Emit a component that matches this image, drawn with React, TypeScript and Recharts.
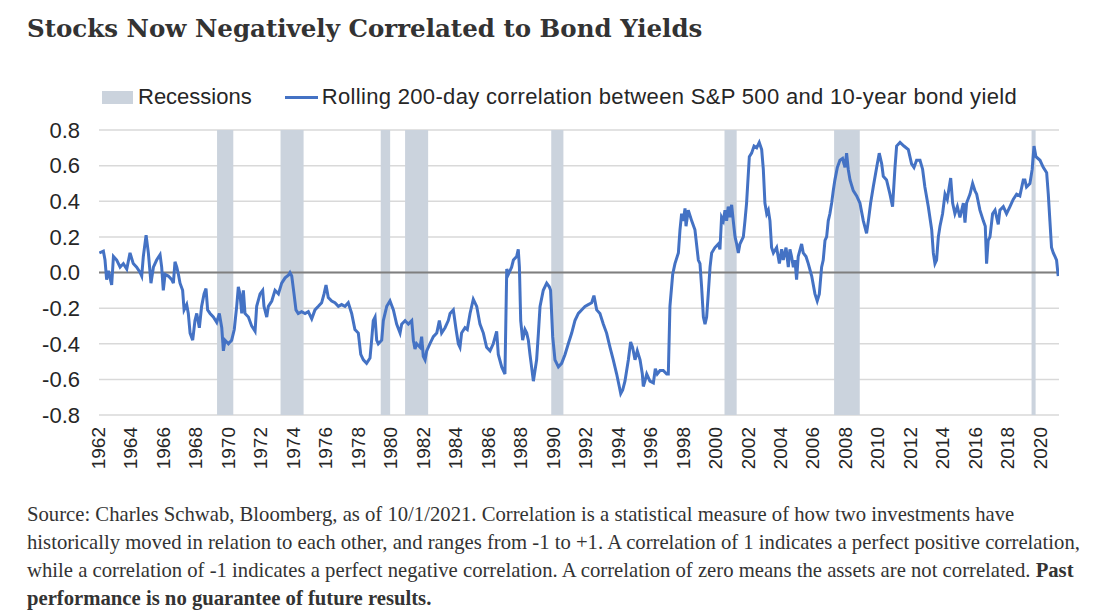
import {
  LineChart,
  Line,
  XAxis,
  YAxis,
  CartesianGrid,
  ReferenceArea,
  ReferenceLine,
} from "recharts";

// dates as decimal years, correlation
const dates = [
  1962.67, 1962.92, 1963.02, 1963.12, 1963.23, 1963.43, 1963.54, 1963.74, 1963.95, 1964.15,
  1964.36, 1964.56, 1964.76, 1964.97, 1965.18, 1965.28, 1965.38, 1965.55, 1965.69, 1965.85,
  1966.0, 1966.2, 1966.41, 1966.51, 1966.61, 1966.72, 1966.92, 1967.13, 1967.23, 1967.33,
  1967.44, 1967.54, 1967.64, 1967.8, 1967.89, 1968.05, 1968.15, 1968.26, 1968.42, 1968.56,
  1968.67, 1968.83, 1968.97, 1969.12, 1969.24, 1969.34, 1969.49, 1969.69, 1969.9, 1970.06,
  1970.21, 1970.31, 1970.41, 1970.62, 1970.82, 1970.98, 1971.13, 1971.23, 1971.33, 1971.44,
  1971.54, 1971.64, 1971.85, 1972.05, 1972.26, 1972.36, 1972.57, 1972.73, 1972.81, 1972.98,
  1973.08, 1973.29, 1973.49, 1973.7, 1973.9, 1974.11, 1974.31, 1974.41, 1974.52, 1974.66,
  1974.78, 1974.92, 1975.13, 1975.34, 1975.54, 1975.75, 1975.95, 1976.16, 1976.36, 1976.51,
  1976.63, 1976.77, 1976.98, 1977.18, 1977.39, 1977.59, 1977.8, 1978.0, 1978.21, 1978.41,
  1978.62, 1978.77, 1978.93, 1979.13, 1979.34, 1979.44, 1979.54, 1979.65, 1979.75, 1979.85,
  1980.06, 1980.16, 1980.37, 1980.57, 1980.78, 1980.98, 1981.19, 1981.29, 1981.5, 1981.7,
  1981.91, 1982.01, 1982.11, 1982.21, 1982.42, 1982.52, 1982.62, 1982.73, 1982.83, 1983.03,
  1983.24, 1983.45, 1983.61, 1983.75, 1983.96, 1984.16, 1984.27, 1984.47, 1984.64, 1984.78,
  1984.88, 1984.98, 1985.19, 1985.33, 1985.5, 1985.7, 1985.91, 1986.11, 1986.32, 1986.52,
  1986.73, 1986.93, 1987.14, 1987.24, 1987.45, 1987.65, 1987.76, 1987.86, 1988.06, 1988.17,
  1988.37, 1988.47, 1988.54, 1988.62, 1988.74, 1988.88, 1988.99, 1989.09, 1989.19, 1989.29,
  1989.4, 1989.5, 1989.6, 1989.71, 1989.81, 1990.01, 1990.22, 1990.38, 1990.46, 1990.59,
  1990.73, 1990.94, 1991.14, 1991.35, 1991.55, 1991.76, 1991.96, 1992.17, 1992.37, 1992.58,
  1992.78, 1992.99, 1993.13, 1993.3, 1993.5, 1993.71, 1993.91, 1994.12, 1994.32, 1994.53,
  1994.69, 1994.78, 1994.9, 1995.04, 1995.25, 1995.39, 1995.51, 1995.66, 1995.8, 1995.97,
  1996.11, 1996.17, 1996.27, 1996.38, 1996.58, 1996.79, 1996.91, 1997.03, 1997.2, 1997.4,
  1997.61, 1997.71, 1997.81, 1997.98, 1998.12, 1998.33, 1998.43, 1998.53, 1998.63, 1998.74,
  1998.8, 1998.94, 1999.15, 1999.35, 1999.56, 1999.66, 1999.76, 1999.87, 1999.97, 2000.07,
  2000.17, 2000.28, 2000.38, 2000.58, 2000.79, 2000.89, 2000.99, 2001.1, 2001.2, 2001.3,
  2001.4, 2001.51, 2001.61, 2001.71, 2001.82, 2001.92, 2002.02, 2002.12, 2002.33, 2002.43,
  2002.53, 2002.7, 2002.84, 2002.99, 2003.15, 2003.31, 2003.46, 2003.56, 2003.66, 2003.77,
  2003.87, 2003.97, 2004.07, 2004.18, 2004.38, 2004.55, 2004.69, 2004.79, 2004.96, 2005.1,
  2005.2, 2005.3, 2005.41, 2005.51, 2005.61, 2005.71, 2005.92, 2006.02, 2006.19, 2006.33,
  2006.54, 2006.74, 2006.88, 2007.01, 2007.15, 2007.25, 2007.36, 2007.46, 2007.56, 2007.66,
  2007.77, 2007.87, 2007.97, 2008.12, 2008.28, 2008.44, 2008.59, 2008.69, 2008.79, 2008.9,
  2009.1, 2009.31, 2009.51, 2009.72, 2009.92, 2010.03, 2010.17, 2010.33, 2010.54, 2010.7,
  2010.85, 2010.95, 2011.15, 2011.36, 2011.52, 2011.67, 2011.77, 2011.98, 2012.22, 2012.49,
  2012.69, 2012.84, 2013.0, 2013.21, 2013.37, 2013.51, 2013.72, 2013.93, 2014.03, 2014.13,
  2014.23, 2014.34, 2014.44, 2014.6, 2014.75, 2014.89, 2015.01, 2015.1, 2015.22, 2015.36,
  2015.51, 2015.67, 2015.88, 2015.98, 2016.08, 2016.29, 2016.45, 2016.59, 2016.7, 2016.9,
  2017.11, 2017.23, 2017.31, 2017.41, 2017.52, 2017.68, 2017.83, 2018.03, 2018.13, 2018.34,
  2018.54, 2018.75, 2018.95, 2019.16, 2019.36, 2019.57, 2019.67, 2019.77, 2019.98, 2020.12,
  2020.23, 2020.35, 2020.6, 2020.8, 2021.01, 2021.11, 2021.21, 2021.31, 2021.42, 2021.52,
  2021.62, 2021.72,
];

const corr = [
  0.11, 0.12, 0.07, -0.04, 0.01, -0.07, 0.09, 0.07, 0.03, 0.05,
  0.02, 0.11, 0.05, 0.03, 0.0, -0.02, 0.09, 0.21, 0.11, -0.06,
  0.03, 0.07, 0.1, 0.03, -0.1, -0.01, -0.02, -0.04, -0.06, 0.06,
  0.03, -0.01, -0.06, -0.1, -0.21, -0.18, -0.23, -0.34, -0.38, -0.27,
  -0.23, -0.31, -0.19, -0.12, -0.09, -0.21, -0.23, -0.25, -0.28, -0.23,
  -0.31, -0.44, -0.38, -0.4, -0.38, -0.32, -0.19, -0.08, -0.12, -0.23,
  -0.1, -0.23, -0.25, -0.3, -0.33, -0.19, -0.12, -0.1, -0.19, -0.25,
  -0.19, -0.16, -0.1, -0.12, -0.06, -0.03, -0.015, 0.0, -0.02, -0.12,
  -0.21, -0.23, -0.22, -0.23, -0.22, -0.26, -0.21, -0.19, -0.17, -0.12,
  -0.07, -0.14, -0.16, -0.17, -0.19, -0.18, -0.19, -0.17, -0.23, -0.32,
  -0.34, -0.46, -0.49, -0.51, -0.48, -0.38, -0.27, -0.25, -0.38, -0.4,
  -0.38, -0.27, -0.19, -0.16, -0.21, -0.29, -0.34, -0.29, -0.27, -0.29,
  -0.27, -0.38, -0.43, -0.4, -0.42, -0.36, -0.47, -0.49, -0.44, -0.4,
  -0.36, -0.34, -0.27, -0.34, -0.31, -0.27, -0.23, -0.21, -0.32, -0.4,
  -0.42, -0.34, -0.31, -0.32, -0.23, -0.15, -0.19, -0.29, -0.34, -0.42,
  -0.44, -0.4, -0.33, -0.46, -0.53, -0.57, 0.02, -0.01, 0.03, 0.07,
  0.09, 0.13, 0.03, -0.27, -0.38, -0.32, -0.34, -0.38, -0.46, -0.53,
  -0.61, -0.55, -0.49, -0.34, -0.19, -0.1, -0.06, -0.08, -0.1, -0.36,
  -0.49, -0.53, -0.51, -0.46, -0.4, -0.34, -0.27, -0.23, -0.21, -0.19,
  -0.18, -0.17, -0.13, -0.21, -0.23, -0.29, -0.34, -0.42, -0.49, -0.57,
  -0.64, -0.68, -0.66, -0.61, -0.49, -0.39, -0.42, -0.49, -0.44, -0.49,
  -0.57, -0.64, -0.61, -0.57, -0.61, -0.62, -0.54, -0.57, -0.55, -0.55,
  -0.57, -0.57, -0.19, -0.01, 0.05, 0.11, 0.24, 0.33, 0.29, 0.36,
  0.26, 0.35, 0.29, 0.24, 0.07, 0.05, -0.08, -0.25, -0.29, -0.25,
  -0.12, 0.03, 0.11, 0.14, 0.16, 0.13, 0.31, 0.29, 0.35, 0.29,
  0.37, 0.31, 0.38, 0.29, 0.2, 0.16, 0.11, 0.16, 0.2, 0.29,
  0.39, 0.65, 0.67, 0.71, 0.7, 0.73, 0.69, 0.58, 0.39, 0.33,
  0.35, 0.29, 0.14, 0.11, 0.14, 0.05, 0.13, 0.07, 0.14, 0.03,
  0.13, 0.09, 0.03, 0.07, -0.04, 0.09, 0.16, 0.11, 0.09, 0.05,
  -0.02, -0.12, -0.16, -0.12, 0.03, 0.07, 0.18, 0.2, 0.29, 0.33,
  0.39, 0.46, 0.52, 0.59, 0.63, 0.64, 0.59, 0.67, 0.58, 0.52,
  0.46, 0.43, 0.39, 0.29, 0.22, 0.29, 0.39, 0.48, 0.59, 0.67,
  0.61, 0.54, 0.52, 0.44, 0.37, 0.59, 0.71, 0.73, 0.71, 0.69,
  0.61, 0.59, 0.63, 0.63, 0.58, 0.48, 0.37, 0.24, 0.11, 0.05,
  0.07, 0.2, 0.26, 0.33, 0.44, 0.41, 0.48, 0.53, 0.39, 0.33,
  0.37, 0.31, 0.39, 0.28, 0.39, 0.44, 0.5, 0.46, 0.44, 0.35,
  0.29, 0.26, 0.05, 0.18, 0.2, 0.33, 0.35, 0.27, 0.35, 0.37,
  0.33, 0.37, 0.41, 0.44, 0.43, 0.52, 0.52, 0.48, 0.5, 0.58,
  0.71, 0.65, 0.63, 0.59, 0.56, 0.44, 0.29, 0.14, 0.11, 0.09,
  0.07, -0.02,
];

const recessionStart = [1969.92, 1973.83, 1980.0, 1981.5, 1990.5, 2001.17, 2007.92, 2020.08];
const recessionEnd = [1970.92, 1975.25, 1980.58, 1982.92, 1991.25, 2001.92, 2009.5, 2020.33];

const tickYears = [
  1962, 1964, 1966, 1968, 1970, 1972, 1974, 1976, 1978, 1980, 1982, 1984, 1986, 1988, 1990,
  1992, 1994, 1996, 1998, 2000, 2002, 2004, 2006, 2008, 2010, 2012, 2014, 2016, 2018, 2020,
];
const yTicks = [-0.8, -0.6, -0.4, -0.2, 0, 0.2, 0.4, 0.6, 0.8];

const data = dates.map((d, i) => ({ date: d, corr: corr[i] }));

const SANS = "'Liberation Sans', Arial, sans-serif";
const SERIF = "'Liberation Serif', 'Times New Roman', serif";
const BLUE = "#4472C4";
const GREY_BAR = "#CBD3DD";
// labels sit a bit past Jan 1 in the original
const labelShift = 0.62;

const YearTick = (props: any) => {
  const { x, y, payload } = props;
  return (
    <text
      x={x}
      y={y}
      transform={`rotate(-90, ${x}, ${y})`}
      textAnchor="end"
      dominantBaseline="central"
      fontSize={19}
      fontFamily={SANS}
      fill="#262626"
    >
      {Math.round(payload.value - labelShift)}
    </text>
  );
};

export default function App() {
  return (
    <div
      style={{
        position: "absolute",
        left: 0,
        top: 0,
        width: 1104,
        height: 614,
        background: "#fff",
        overflow: "hidden",
      }}
    >
      <div
        style={{
          position: "absolute",
          left: 27,
          top: 15,
          fontFamily: "'DejaVu Serif', Georgia, serif",
          fontWeight: 700,
          fontSize: 24.5,
          lineHeight: "28px",
          color: "#333",
          whiteSpace: "nowrap",
        }}
      >
        Stocks Now Negatively Correlated to Bond Yields
      </div>

      <div
        style={{
          position: "absolute",
          left: 102,
          top: 84,
          height: 26,
          display: "flex",
          alignItems: "center",
          fontFamily: SANS,
          fontSize: 22,
          color: "#262626",
          whiteSpace: "nowrap",
        }}
      >
        <span style={{ display: "inline-block", width: 31, height: 13, background: GREY_BAR, marginRight: 5 }} />
        <span>Recessions</span>
        <span style={{ display: "inline-block", width: 33, height: 3, background: BLUE, marginLeft: 33, marginRight: 4 }} />
        <span style={{ letterSpacing: 0.33 }}>
          Rolling 200-day correlation between S&amp;P 500 and 10-year bond yield
        </span>
      </div>

      <div style={{ position: "absolute", left: 0, top: 70 }}>
        <LineChart width={1080} height={405} data={data} margin={{ top: 60, right: 21, left: 0, bottom: 0 }}>
          <CartesianGrid horizontal vertical={false} stroke="#D9D9D9" strokeWidth={1.5} />
          {recessionStart.map((s, i) => (
            <ReferenceArea
              key={s}
              x1={s}
              x2={recessionEnd[i]}
              y1={-0.8}
              y2={0.8}
              fill={GREY_BAR}
              fillOpacity={1}
              stroke="none"
            />
          ))}
          <XAxis
            dataKey="date"
            type="number"
            domain={[1962.65, 2021.77]}
            allowDataOverflow
            ticks={tickYears.map((t) => t + labelShift)}
            interval={0}
            axisLine={false}
            tickLine={false}
            tickMargin={6}
            height={60}
            tick={<YearTick />}
          />
          <YAxis
            type="number"
            domain={[-0.8, 0.8]}
            ticks={yTicks}
            interval={0}
            width={99}
            axisLine={false}
            tickLine={false}
            tickMargin={13}
            tickFormatter={(v: number) => v.toFixed(1)}
            tick={{ fontSize: 22, fill: "#262626", fontFamily: SANS }}
          />
          <ReferenceLine y={0} stroke="#7F7F7F" strokeWidth={2} />
          <Line
            dataKey="corr"
            type="linear"
            stroke={BLUE}
            strokeWidth={3}
            dot={false}
            isAnimationActive={false}
          />
        </LineChart>
      </div>

      <div
        style={{
          position: "absolute",
          left: 27,
          top: 500,
          fontFamily: SERIF,
          fontSize: 20.7,
          lineHeight: "28px",
          color: "#333",
          whiteSpace: "nowrap",
        }}
      >
        <div>
          Source: Charles Schwab, Bloomberg, as of 10/1/2021. Correlation is a statistical measure of how two investments have
        </div>
        <div>
          historically moved in relation to each other, and ranges from -1 to +1. A correlation of 1 indicates a perfect positive correlation,
        </div>
        <div>
          while a correlation of -1 indicates a perfect negative correlation. A correlation of zero means the assets are not correlated.{" "}
          <b>Past</b>
        </div>
        <div>
          <b>performance is no guarantee of future results.</b>
        </div>
      </div>
    </div>
  );
}
